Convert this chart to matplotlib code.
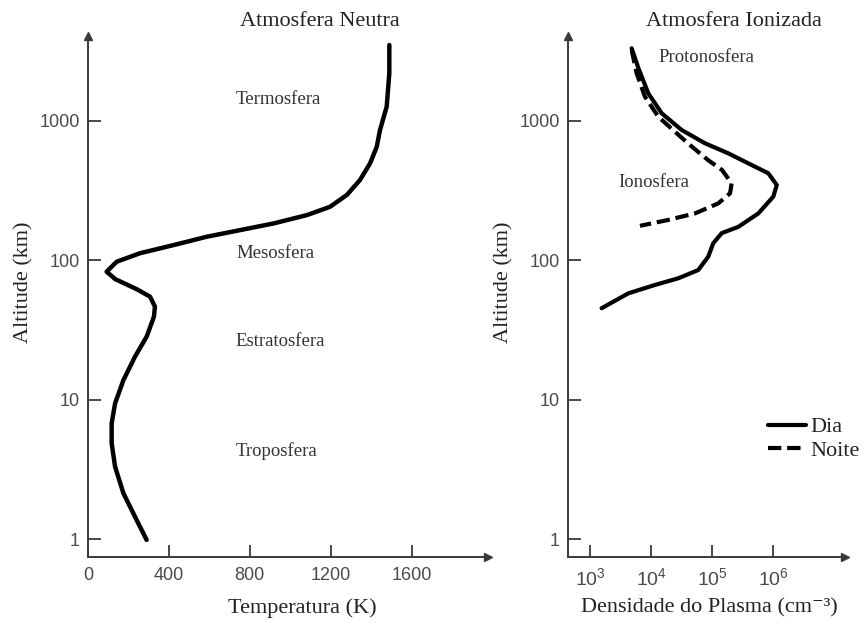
import matplotlib
matplotlib.use("Agg")
import matplotlib.pyplot as plt
from matplotlib.ticker import NullLocator

# ---------------- data ----------------
# Left panel: neutral atmosphere temperature profile
temp_k = [1490, 1490, 1477, 1444, 1428, 1395, 1345, 1280, 1197, 1082, 917, 752,
          587, 422, 257, 142, 92, 135, 240, 307, 331, 326, 290, 232, 175, 134,
          117, 117, 134, 175, 241, 290]
alt_temp_km = [3476, 2178, 1256, 855, 649, 494, 375, 293, 241, 210, 183, 164,
               147, 128, 112, 97.4, 82.6, 73.0, 62.0, 54.7, 46.4, 39.3, 28.3,
               20.3, 13.8, 9.42, 6.78, 4.87, 3.31, 2.14, 1.37, 0.99]

# Right panel: plasma density, day
dens_day = [4.81e3, 6.18e3, 9.0e3, 1.49e4, 3.17e4, 7.62e4, 1.83e5, 3.44e5,
            8.28e5, 1.14e6, 1.0e6, 5.69e5, 2.67e5, 1.43e5, 1.04e5, 8.63e4,
            5.92e4, 2.79e4, 1.16e4, 4.24e3, 1.55e3]
alt_day_km = [3290, 2382, 1566, 1127, 855, 687, 582, 507, 419, 345, 285, 216,
              173, 156, 132, 106, 84.9, 74.1, 66.4, 57.8, 45.2]

# Right panel: plasma density, night
dens_night = [4.81e3, 5.81e3, 7.94e3, 1.31e4, 2.46e4, 4.33e4, 8.53e4, 1.45e5,
              2.08e5, 1.96e5, 1.26e5, 5.22e4, 1.91e4, 6.58e3]
alt_night_km = [3199, 2178, 1481, 1065, 831, 667, 521, 442, 355, 301, 255, 216,
                194, 176]

temp_ticks = [0, 400, 800, 1200, 1600]
temp_ticklabels = ["0", "400", "800", "1200", "1600"]
alt_ticks = [1, 10, 100, 1000]
alt_ticklabels = ["1", "10", "100", "1000"]
dens_ticks = [1e3, 1e4, 1e5, 1e6]
dens_ticklabels = [r"$10^{3}$", r"$10^{4}$", r"$10^{5}$", r"$10^{6}$"]

layer_labels = ["Termosfera", "Mesosfera", "Estratosfera", "Troposfera"]
iono_labels = ["Protonosfera", "Ionosfera"]
series_names = ["Dia", "Noite"]

# ---------------- style ----------------
plt.rcParams["font.family"] = ["Liberation Sans", "DejaVu Sans"]
plt.rcParams["mathtext.fontset"] = "custom"
plt.rcParams["mathtext.rm"] = "Liberation Sans"
plt.rcParams["mathtext.it"] = "Liberation Sans"
SERIF = ["Liberation Serif", "DejaVu Serif"]
AXC = "#3a3a3a"
TXC = "#222222"
TICKC = "#4a4a4a"

W, H = 867, 623
fig = plt.figure(figsize=(W / 100, H / 100), dpi=100)


def fx(px):
    return px / W


def fy(py):
    return 1 - py / H


ax1 = fig.add_axes([fx(88), fy(557), fx(488) - fx(88), fy(36) - fy(557)])
ax2 = fig.add_axes([fx(568), fy(557), fx(845) - fx(568), fy(36) - fy(557)])

ax1.plot(temp_k, alt_temp_km, color="black", lw=3.2, solid_capstyle="round",
         solid_joinstyle="round")
ax2.plot(dens_day, alt_day_km, color="black", lw=3.0, solid_capstyle="round",
         solid_joinstyle="round", label=series_names[0])
ax2.plot(dens_night, alt_night_km, color="black", lw=3.0, dashes=(3.2, 1.4),
         label=series_names[1])

for ax in (ax1, ax2):
    ax.set_yscale("log")
    ax.set_ylim(0.747, 4030)
    ax.set_yticks(alt_ticks)
    ax.set_yticklabels(alt_ticklabels)
    ax.yaxis.set_minor_locator(NullLocator())
    for s in ("top", "right"):
        ax.spines[s].set_visible(False)
    for s in ("left", "bottom"):
        ax.spines[s].set_color(AXC)
        ax.spines[s].set_linewidth(1.4)
    ax.tick_params(direction="in", length=9, width=1.3, color=AXC,
                   labelsize=13, labelcolor=TICKC)
    ax.tick_params(axis="y", pad=6)
    ax.tick_params(axis="x", pad=7)
    ax.plot([0], [1], marker="^", color=AXC, ms=6, transform=ax.transAxes,
            clip_on=False)
    ax.plot([1], [0], marker=">", color=AXC, ms=6, transform=ax.transAxes,
            clip_on=False)
    ax.patch.set_alpha(0)

ax1.set_xlim(0, 1978)
ax1.set_xticks(temp_ticks)
ax1.set_xticklabels(temp_ticklabels)

ax2.set_xscale("log")
ax2.set_xlim(437, 1.49e7)
ax2.set_xticks(dens_ticks)
ax2.set_xticklabels(dens_ticklabels, fontsize=14)
ax2.xaxis.set_minor_locator(NullLocator())

# titles and labels
fig.text(fx(320), fy(22), "Atmosfera Neutra", family=SERIF, fontsize=16,
         color=TXC, ha="center", va="center")
fig.text(fx(734), fy(22), "Atmosfera Ionizada", family=SERIF, fontsize=16,
         color=TXC, ha="center", va="center")
fig.text(fx(302), fy(608), "Temperatura (K)", family=SERIF, fontsize=16,
         color=TXC, ha="center", va="center")
fig.text(fx(709), fy(608), "Densidade do Plasma (cm\u207b\u00b3)", family=SERIF,
         fontsize=16, color=TXC, ha="center", va="center")
fig.text(fx(24), fy(282), "Altitude (km)", family=SERIF, fontsize=16,
         color=TXC, ha="center", va="center", rotation=90)
fig.text(fx(504), fy(282), "Altitude (km)", family=SERIF, fontsize=16,
         color=TXC, ha="center", va="center", rotation=90)

# region labels
for lab, (px, py) in zip(layer_labels, [(278, 99), (276, 253), (280, 342), (277, 451)]):
    fig.text(fx(px), fy(py), lab, family=SERIF, fontsize=13.5, color="#333333",
             ha="center", va="center")
for lab, (px, py) in zip(iono_labels, [(706, 57), (654, 182)]):
    fig.text(fx(px), fy(py), lab, family=SERIF, fontsize=13.5, color="#333333",
             ha="center", va="center")

leg = ax2.legend(loc="center left", bbox_to_anchor=(fx(768), fy(439)),
                 bbox_transform=fig.transFigure, frameon=False,
                 prop={"family": SERIF, "size": 16}, handlelength=1.7,
                 handletextpad=0.2, labelspacing=0.15, borderpad=0,
                 borderaxespad=0)
for t in leg.get_texts():
    t.set_color(TXC)

fig.savefig("out.png", dpi=100)
